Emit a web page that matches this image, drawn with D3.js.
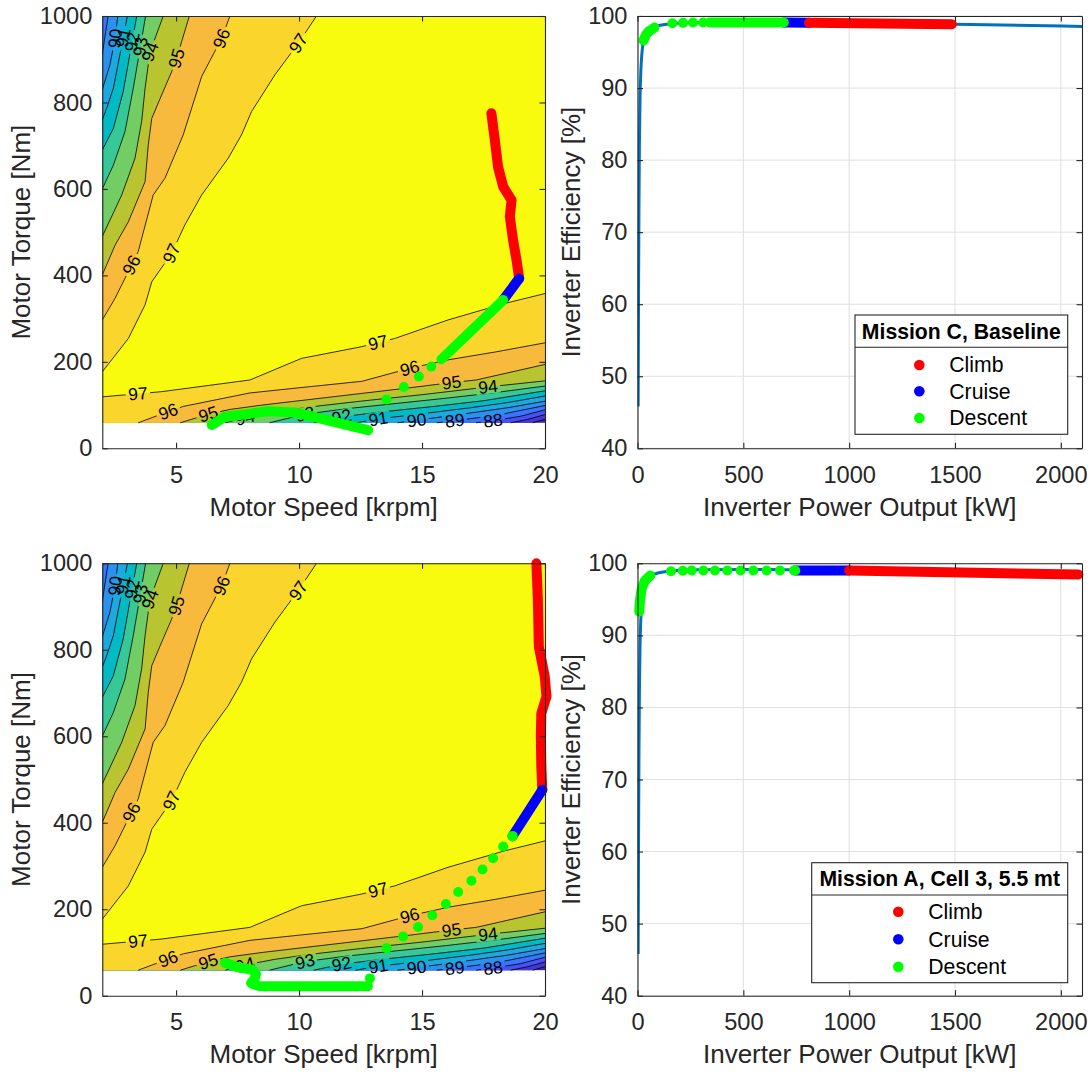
<!DOCTYPE html>
<html><head><meta charset="utf-8">
<script src="https://cdn.jsdelivr.net/npm/d3@7"></script>
<style>
body{margin:0;background:#fff;}
text{font-family:"Liberation Sans",Arial,Helvetica,sans-serif;}
</style>
</head><body>
<svg id="chart" width="1092" height="1074"></svg>
<script>
// ---------------- DATA ----------------
const speedTicks = [5, 10, 15, 20];
const torqueTicks = [0, 200, 400, 600, 800, 1000];
const powerTicks = [0, 500, 1000, 1500, 2000];
const effTicks = [40, 50, 60, 70, 80, 90, 100];

const contourLevels = [86, 87, 88, 89, 90, 91, 92, 93, 94, 95, 96, 97];
const mapTorqueMin = 59;

// contour lines coming down from the top edge (speed krpm, torque Nm)
const left89 = [[2.24,1000],[2.1,950],[2.0,910]];
const left90 = [[2.63,1000],[2.52,948],[2.31,887],[2.0,830]];
const left91 = [[3.02,1000],[2.85,950],[2.45,833],[2.2,790],[2.0,760]];
const left92 = [[3.4,1000],[3.21,940],[2.85,825],[2.45,740],[2.0,690]];
const left93 = [[3.76,1000],[3.55,929],[3.26,833],[2.92,732],[2.45,655],[2.0,600]];
const left94 = [[4.48,1000],[3.94,917],[3.74,833],[3.6,756],[3.33,671],[2.79,586],[2.0,490]];
const left95 = [[5.54,1000],[5.02,902],[4.82,871],[4.41,817],[4.01,763],[3.87,702],[3.74,617],[3.06,524],[2.52,470],[2.0,401]];
const left96 = [[7.19,1000],[6.85,948],[6.04,860],[5.29,725],[4.55,625],[4.07,586],[3.46,455],[3.19,424],[2.52,347],[2.0,297]];
const left97 = [[10.71,1000],[9.97,937],[9.02,864],[8.07,779],[7.66,725],[7.12,671],[6.04,586],[5.36,517],[4.82,451],[4.01,385],[3.74,332],[3.06,254],[2.0,177]];

// contour lines in the low-torque region
const bottom86 = [[19.5,59],[20,67]];
const bottom87 = [[18.6,59],[19.3,67],[20,78]];
const bottom88 = [[17.2,59],[17.89,64],[19,74],[20,89]];
const bottom89 = [[15.6,59],[16.33,64],[18,76],[20,99]];
const bottom90 = [[14.0,59],[14.78,65],[16.5,78],[18.5,94],[20,109]];
const bottom91 = [[12.3,59],[13.22,68],[15,80],[17,94],[18.5,106],[20,121]];
const bottom92 = [[10.6,59],[11.73,73],[13.5,85],[15.5,97],[17.5,110],[20,133]];
const bottom93 = [[8.8,59],[10.24,79],[12,92],[14,104],[16,116],[18,129],[20,144]];
const bottom94 = [[7.0,59],[7.8,71],[9,84],[10.5,96],[12.5,109],[15,124],[17.68,142],[20,156]];
const bottom95 = [[5.17,59],[6.31,79],[7.2,90],[8.5,100],[10,110],[12.56,127],[14.5,140],[16.2,152],[17.2,158],[20,194]];
const bottom96 = [[3.46,59],[4.68,85],[5.3,97],[8.0,128],[10,140],[12.56,155],[14.5,185],[16.1,205],[18,223],[20,244]];
const bottom97 = [[2,119],[4.41,131],[8,158],[10.1,208],[12.54,235],[13.89,254],[16.06,297],[18.36,335],[20,358]];

// contour labels: [curve side, level, approx speed, approx torque]
const contourLabels = [
  ['L',97,9.97,937],['L',97,4.82,451],['L',96,6.85,948],['L',96,3.19,424],
  ['L',95,5.02,902],['L',94,3.94,917],['L',93,3.55,929],['L',92,3.21,940],
  ['L',91,2.85,950],['L',90,2.52,948],
  ['B',97,3.45,126],['B',97,13.22,243],['B',96,4.68,85],['B',96,14.5,185],
  ['B',95,6.31,79],['B',95,16.2,152],['B',94,7.8,71],['B',94,17.68,142],
  ['B',93,10.24,79],['B',92,11.73,73],['B',91,13.22,68],['B',90,14.78,65],
  ['B',89,16.33,64],['B',88,17.89,64]
];

// inverter efficiency curve (kW, %)
const effCurvePower = [3,5,7,9,12,16,20,25,31,45,59,80,114,185,300,500,700,1000,1500,2100];
const effCurveValue = [45.8,62,74,82,88.5,92.5,94.5,96,97,97.8,98.2,98.5,98.75,99.0,99.1,99.15,99.1,99.0,98.85,98.55];

// Mission C, Baseline
const cClimbMap = [[17.82,775],[17.96,713],[18.09,651],[18.3,605],[18.64,574],[18.57,536],[18.7,482],[18.84,436],[18.95,393]];
const cCruiseMap = [[18.95,393],[18.3,343]];
const cDescentMapLine1 = [[18.3,343],[15.79,206]];
const cDescentMapDots = [[15.38,189],[14.87,166],[14.26,142],[13.56,113]];
const cDescentMapLine2 = [[6.45,54],[6.99,73],[8.0,80],[8.75,86],[9.83,83],[10.2,78],[12.81,42]];
const cClimbEff = [[810,99.05],[1485,98.85]];
const cCruiseEff = [[691,99.1],[810,99.05]];
const cDescentEffLine1 = [[341,99.1],[691,99.1]];
const cDescentEffLine2 = [[28,96.6],[40,97.4],[55,97.9],[80,98.4]];
const cDescentEffDots = [[165,99.0],[215,99.05],[262,99.1],[310,99.1]];

// Mission A, Cell 3, 5.5 mt
const aClimbMap = [[19.65,1000],[19.71,915],[19.75,807],[19.99,738],[20.06,692],[19.85,653],[19.83,599],[19.85,530],[19.89,476]];
const aCruiseMap = [[19.89,476],[18.68,369]];
const aDescentMapLine1 = [[18.68,369],[18.68,369]];
const aDescentMapDots = [[18.68,369],[18.3,345],[17.89,318],[17.46,292],[17.01,266],[16.47,240],[15.97,212],[15.42,186],[14.84,159],[14.23,137],[13.56,110],[12.88,40]];
const aDescentMapLine2 = [[6.99,76],[7.5,66],[8.1,60],[8.25,50],[8.2,40],[8.05,29],[8.4,22],[12.8,22]];
const aClimbEff = [[1000,99.0],[2083,98.45]];
const aCruiseEff = [[745,99.0],[1000,99.0]];
const aDescentEffLine1 = [[745,99.0],[745,99.0]];
const aDescentEffLine2 = [[8,93.3],[12,95.0],[20,96.5],[35,97.6],[60,98.3]];
const aDescentEffDots = [[158,98.9],[214,98.97],[256,99.0],[311,99.0],[366,99.0],[424,99.0],[487,99.0],[547,99.0],[610,99.0],[673,99.0],[739,99.0]];

const legendTitles = ['Mission C, Baseline', 'Mission A, Cell 3, 5.5 mt'];
const phaseNames = ['Climb', 'Cruise', 'Descent'];

// ---------------- STYLE ----------------
const bandBase = '#3e26a8';
const bandColors = {86:'#4537d5',87:'#4852f4',88:'#3875fe',89:'#2b91ef',90:'#1ca9df',91:'#02bac3',
  92:'#37c897',93:'#72cd64',94:'#b9c431',95:'#f8ba3d',96:'#fad62d',97:'#f9fb0e'};
const phaseColors = ['#ff0000','#0000ff','#00ff00'];
const axisColor = '#262626';
const tickFont = 23.6, labelFont = 26, legendFont = 21.2, clabelFont = 17.5;

const leftCurves = {89:left89,90:left90,91:left91,92:left92,93:left93,94:left94,95:left95,96:left96,97:left97};
const bottomCurves = {86:bottom86,87:bottom87,88:bottom88,89:bottom89,90:bottom90,91:bottom91,92:bottom92,93:bottom93,94:bottom94,95:bottom95,96:bottom96,97:bottom97};

const svg = d3.select('#chart');
const W = 1092, H = 1074;
svg.append('rect').attr('width',W).attr('height',H).attr('fill','#fff');
const defs = svg.append('defs');

const panels = [
  {kind:'map', x0:102.3, x1:545, y0:16, y1:448.3, m:0},
  {kind:'eff', x0:637.5, x1:1082, y0:16, y1:448.3, m:0},
  {kind:'map', x0:102.3, x1:545, y0:563.3, y1:995.7, m:1},
  {kind:'eff', x0:637.5, x1:1082, y0:563.3, y1:995.7, m:1}
];
const missions = [
  {climbMap:cClimbMap, cruiseMap:cCruiseMap, dMapLines:[cDescentMapLine1,cDescentMapLine2], dMapDots:cDescentMapDots,
   climbEff:cClimbEff, cruiseEff:cCruiseEff, dEffLines:[cDescentEffLine1,cDescentEffLine2], dEffDots:cDescentEffDots,
   legend:{x0:855, x1:1067.7, y0:315, sep:347.3, y1:434.3, mx:919.3, tx:949.3, rows:[365,391.3,418]}},
  {climbMap:aClimbMap, cruiseMap:aCruiseMap, dMapLines:[aDescentMapLine1,aDescentMapLine2], dMapDots:aDescentMapDots,
   climbEff:aClimbEff, cruiseEff:aCruiseEff, dEffLines:[aDescentEffLine1,aDescentEffLine2], dEffDots:aDescentEffDots,
   legend:{x0:811.7, x1:1067.7, y0:862.7, sep:895, y1:982.7, mx:898.3, tx:928.3, rows:[911.7,939.3,966.7]}}
];
const fmt = d3.format('d');

function styleAxis(g){
  g.attr('font-family',null).attr('font-size',null);
  g.select('.domain').attr('stroke',axisColor).attr('stroke-width',1.1);
  g.selectAll('.tick line').attr('stroke',axisColor).attr('stroke-width',1.1);
  g.selectAll('.tick text').attr('fill',axisColor).style('font-size',tickFont+'px');
}

function drawGrid(p, x, y, xt, yt){
  const g = svg.append('g');
  g.selectAll(null).data(xt).enter().append('line')
    .attr('x1',d=>x(d)).attr('x2',d=>x(d)).attr('y1',p.y0).attr('y2',p.y1)
    .attr('stroke','#dfdfdf').attr('stroke-width',1);
  g.selectAll(null).data(yt).enter().append('line')
    .attr('y1',d=>y(d)).attr('y2',d=>y(d)).attr('x1',p.x0).attr('x2',p.x1)
    .attr('stroke','#dfdfdf').attr('stroke-width',1);
}

function finishAxes(p, x, y, xt, yt, xl, yl, yLabelX){
  const g = svg.append('g');
  g.append('g').attr('transform',`translate(0,${p.y1})`)
    .call(d3.axisBottom(x).tickValues(xt).tickFormat(fmt).tickSizeInner(-5.5).tickSizeOuter(0).tickPadding(17.5)).call(styleAxis);
  g.append('g').attr('transform',`translate(0,${p.y0})`)
    .call(d3.axisTop(x).tickValues(xt).tickSizeInner(-5.5).tickSizeOuter(0).tickFormat('')).call(styleAxis);
  g.append('g').attr('transform',`translate(${p.x0},0)`)
    .call(d3.axisLeft(y).tickValues(yt).tickFormat(fmt).tickSizeInner(-5.5).tickSizeOuter(0).tickPadding(10)).call(styleAxis);
  g.append('g').attr('transform',`translate(${p.x1},0)`)
    .call(d3.axisRight(y).tickValues(yt).tickSizeInner(-5.5).tickSizeOuter(0).tickFormat('')).call(styleAxis);
  g.append('text').attr('x',(p.x0+p.x1)/2).attr('y',p.y1+67.6).attr('text-anchor','middle')
    .attr('fill',axisColor).style('font-size',labelFont+'px').text(xl);
  g.append('text').attr('transform',`translate(${yLabelX},${(p.y0+p.y1)/2}) rotate(-90)`).attr('text-anchor','middle')
    .attr('fill',axisColor).style('font-size',labelFont+'px').text(yl);
}

function thick(g, line, pts, color){
  g.append('path').attr('d',line(pts)).attr('fill','none').attr('stroke',color)
    .attr('stroke-width',10).attr('stroke-linecap','round').attr('stroke-linejoin','round');
}
function dots(g, x, y, pts, color){
  g.selectAll(null).data(pts).enter().append('circle')
    .attr('cx',d=>x(d[0])).attr('cy',d=>y(d[1])).attr('r',5).attr('fill',color);
}

function bandPolygon(L){
  const pts = [];
  if (leftCurves[L]) leftCurves[L].forEach(d=>pts.push(d)); else pts.push([2,1000]);
  const b = bottomCurves[L];
  if (b[0][1] <= mapTorqueMin + 0.5 && b[0][0] > 2) pts.push([2,mapTorqueMin]);
  b.forEach(d=>pts.push(d));
  pts.push([20,1000]);
  return pts;
}

function drawMap(p, idx){
  const M = missions[p.m];
  const x = d3.scaleLinear().domain([2,20]).range([p.x0,p.x1]);
  const y = d3.scaleLinear().domain([0,1000]).range([p.y1,p.y0]);
  const line = d3.line().x(d=>x(d[0])).y(d=>y(d[1]));
  const clipId = 'clip'+idx;
  defs.append('clipPath').attr('id',clipId).append('rect')
    .attr('x',p.x0).attr('y',p.y0).attr('width',p.x1-p.x0).attr('height',p.y1-p.y0);
  const mg = svg.append('g').attr('clip-path',`url(#${clipId})`);
  mg.append('rect').attr('x',x(2)).attr('y',y(1000)).attr('width',x(20)-x(2))
    .attr('height',y(mapTorqueMin)-y(1000)).attr('fill',bandBase);
  contourLevels.forEach(L=>{
    mg.append('path').attr('d',line(bandPolygon(L))+'Z').attr('fill',bandColors[L]);
  });
  const maskId = 'mask'+idx;
  const mask = defs.append('mask').attr('id',maskId).attr('maskUnits','userSpaceOnUse')
    .attr('x',0).attr('y',0).attr('width',W).attr('height',H);
  mask.append('rect').attr('x',0).attr('y',0).attr('width',W).attr('height',H).attr('fill','#fff');
  const lg = mg.append('g').attr('mask',`url(#${maskId})`);
  Object.values(leftCurves).concat(Object.values(bottomCurves)).forEach(c=>{
    lg.append('path').attr('d',line(c)).attr('fill','none').attr('stroke','#000').attr('stroke-width',0.8);
  });
  contourLabels.forEach(lab=>{
    const curve = (lab[0]==='L'?leftCurves:bottomCurves)[lab[1]].map(d=>[x(d[0]),y(d[1])]);
    const pt = [x(lab[2]),y(lab[3])];
    let best=null;
    for(let i=0;i<curve.length-1;i++){
      const [ax,ay]=curve[i],[bx,by]=curve[i+1];
      const dx=bx-ax, dy=by-ay, len2=dx*dx+dy*dy||1;
      let t=((pt[0]-ax)*dx+(pt[1]-ay)*dy)/len2; t=Math.max(0,Math.min(1,t));
      const qx=ax+t*dx, qy=ay+t*dy, dd=(qx-pt[0])**2+(qy-pt[1])**2;
      if(!best||dd<best.dd) best={dd,qx,qy,ang:Math.atan2(dy,dx)*180/Math.PI};
    }
    let a=best.ang; if(a>90)a-=180; if(a<=-90)a+=180;
    const tr = `translate(${best.qx},${best.qy}) rotate(${a})`;
    const t = mg.append('text').attr('transform',tr).attr('text-anchor','middle')
      .attr('dominant-baseline','central').attr('fill','#000').style('font-size',clabelFont+'px').text(lab[1]);
    const w = t.node().getComputedTextLength()+5;
    mask.append('rect').attr('x',-w/2).attr('y',-7).attr('width',w).attr('height',14)
      .attr('transform',tr).attr('fill','#000');
  });
  // trajectory
  const tg = svg.append('g');
  thick(tg, line, M.climbMap, phaseColors[0]);
  thick(tg, line, M.cruiseMap, phaseColors[1]);
  M.dMapLines.forEach(l=>thick(tg, line, l, phaseColors[2]));
  dots(tg, x, y, M.dMapDots, phaseColors[2]);
  finishAxes(p, x, y, speedTicks, torqueTicks, 'Motor Speed [krpm]', 'Motor Torque [Nm]', 29.5);
}

function drawEff(p, idx){
  const M = missions[p.m];
  const x = d3.scaleLinear().domain([0,2100]).range([p.x0,p.x1]);
  const y = d3.scaleLinear().domain([40,100]).range([p.y1,p.y0]);
  const line = d3.line().x(d=>x(d[0])).y(d=>y(d[1]));
  drawGrid(p, x, y, powerTicks, effTicks);
  const clipId = 'clipE'+idx;
  defs.append('clipPath').attr('id',clipId).append('rect')
    .attr('x',p.x0).attr('y',p.y0).attr('width',p.x1-p.x0).attr('height',p.y1-p.y0);
  const curve = effCurvePower.map((v,i)=>[v,effCurveValue[i]]);
  svg.append('path').attr('clip-path',`url(#${clipId})`)
    .attr('d',d3.line().curve(d3.curveMonotoneX).x(d=>x(d[0])).y(d=>y(d[1]))(curve))
    .attr('fill','none').attr('stroke','#0072bd').attr('stroke-width',3);
  const tg = svg.append('g');
  thick(tg, line, M.cruiseEff, phaseColors[1]);
  thick(tg, line, M.climbEff, phaseColors[0]);
  M.dEffLines.forEach(l=>thick(tg, line, l, phaseColors[2]));
  dots(tg, x, y, M.dEffDots, phaseColors[2]);
  finishAxes(p, x, y, powerTicks, effTicks, 'Inverter Power Output [kW]', 'Inverter Efficiency [%]', 580);
  // legend
  const L = M.legend;
  const lg = svg.append('g');
  lg.append('rect').attr('x',L.x0).attr('y',L.y0).attr('width',L.x1-L.x0).attr('height',L.y1-L.y0)
    .attr('fill','#fff').attr('stroke',axisColor).attr('stroke-width',1.1);
  lg.append('line').attr('x1',L.x0).attr('x2',L.x1).attr('y1',L.sep).attr('y2',L.sep)
    .attr('stroke',axisColor).attr('stroke-width',1.1);
  lg.append('text').attr('x',(L.x0+L.x1)/2).attr('y',(L.y0+L.sep)/2).attr('dy','0.35em')
    .attr('text-anchor','middle').attr('font-weight','bold').attr('fill','#000')
    .style('font-size',legendFont+'px').text(legendTitles[p.m]);
  phaseNames.forEach((n,i)=>{
    lg.append('circle').attr('cx',L.mx).attr('cy',L.rows[i]).attr('r',5.3).attr('fill',phaseColors[i]);
    lg.append('text').attr('x',L.tx).attr('y',L.rows[i]).attr('dy','0.35em').attr('fill','#000')
      .style('font-size',legendFont+'px').text(n);
  });
}

panels.forEach((p,i)=>{ if(p.kind==='map') drawMap(p,i); else drawEff(p,i); });
</script>
</body></html>
